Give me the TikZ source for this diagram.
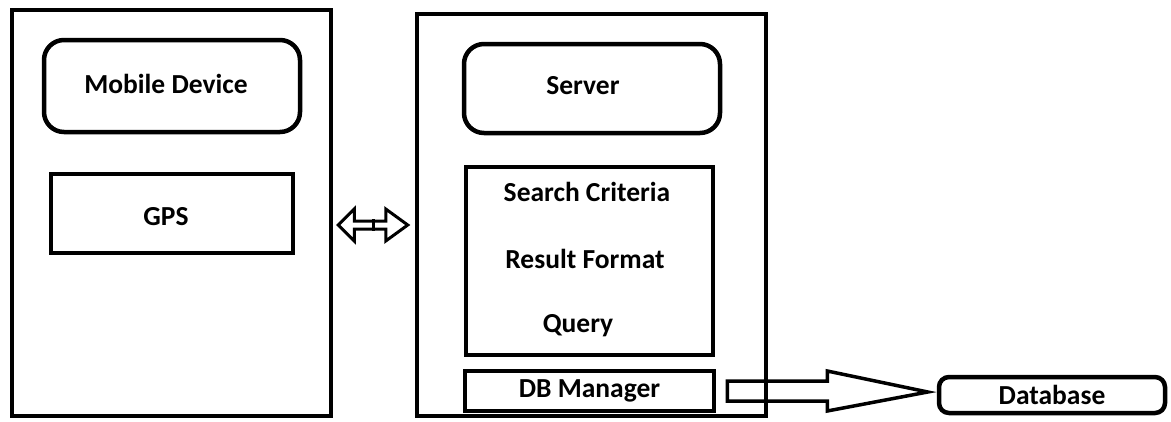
\documentclass[tikz,border=0pt]{standalone}
\usepackage{fontspec}
\setmainfont{Carlito}
\usetikzlibrary{calc}
\tikzset{
  outerbox/.style={draw,line width=4.5pt,inner sep=0pt},
  roundbox/.style={draw,line width=4.5pt,rounded corners=20pt,inner sep=0pt},
  plainbox/.style={draw,line width=4.5pt,inner sep=0pt},
  label text/.style={font=\bfseries\fontsize{27.5}{30}\selectfont},
  arrowline/.style={draw,line width=3.5pt,line join=miter},
}
\begin{document}
\begin{tikzpicture}[x=1pt,y=-1pt]
        \useasboundingbox (0,0) rectangle (1171,421);

        % client side
        \node[outerbox,minimum width=319pt,minimum height=406pt](mob)at(171.5,213){};
        \node[roundbox,minimum width=256pt,minimum height=92pt](mobdev)at(172,86){};
        \node[label text]at(166,84){Mobile Device};
        \node[plainbox,minimum width=242pt,minimum height=79pt](gps)at(172,213.5){};
        \node[label text]at(166,217){GPS};

        % server side
        \node[outerbox,minimum width=349pt,minimum height=402pt](srv)at(591.5,215){};
        \node[roundbox,minimum width=256pt,minimum height=89pt](server)at(592,88.5){};
        \node[label text]at(583,86){Server};
        \node[plainbox,minimum width=247pt,minimum height=188pt](qry)at(589.5,261){};
        \node[label text]at(587,192){Search Criteria};
        \node[label text]at(585,259){Result Format};
        \node[label text]at(578,326){Query};
        \node[plainbox,minimum width=249pt,minimum height=40pt](dbm)at(589.5,391){};
        \node[label text]at(dbm){DB Manager};

        % database
        \node[roundbox,rounded corners=10pt,minimum width=226pt,minimum height=36pt](db)at(1052,395){};
        \node[label text]at(db){Database};

        % hollow double arrow
        \coordinate(l)at($(mob.east)+(5,12)$);
        \coordinate(r)at($(srv.west)+(-7,10)$);
        \draw[arrowline,line width=3pt](l)--++(16,-16)--++(0,12)--($(r)+(-22,-4)$)--++(0,-12)--(r)
            --($(r)+(-22,16)$)--++(0,-12)--($(l)+(16,4)$)--++(0,12)--cycle;
        \draw[line width=3pt]($(l)!0.5!(r)+(0,-6)$)--($(l)!0.5!(r)+(0,6)$);

        % hollow arrow to database
        \coordinate(t)at($(dbm.east)+(11,0)$);
        \coordinate(h)at($(db.west)+(-9,-3)$);
        \draw[arrowline](t)++(0,-10)--++(100,0)--++(0,-10)--(h)--($(t)+(100,20)$)--++(0,-10)--($(t)+(0,10)$)--cycle;
    \end{tikzpicture}
\end{document}
